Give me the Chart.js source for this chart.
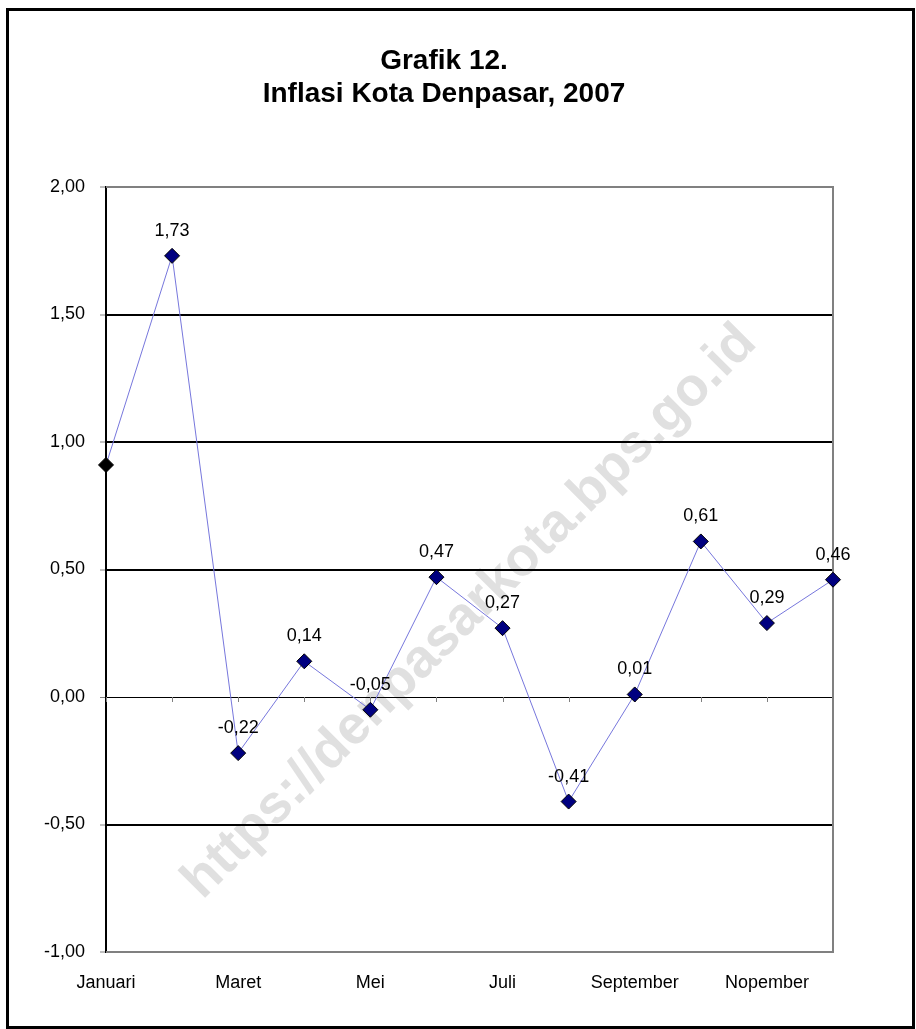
<!DOCTYPE html>
<html>
<head>
<meta charset="utf-8">
<title>Grafik 12. Inflasi Kota Denpasar, 2007</title>
<script src="https://cdn.jsdelivr.net/npm/chart.js@4"></script>
<style>
  html, body { margin: 0; padding: 0; background: #fff; }
  #chart { display: block; }
</style>
</head>
<body>
<canvas id="chart" width="916" height="1029"></canvas>
<script>
// ── Data ──────────────────────────────────────────────────────
const months = ['Januari', 'Februari', 'Maret', 'April', 'Mei', 'Juni',
                'Juli', 'Agustus', 'September', 'Oktober', 'Nopember', 'Desember'];
const inflasi = [0.91, 1.73, -0.22, 0.14, -0.05, 0.47, 0.27, -0.41, 0.01, 0.61, 0.29, 0.46];
const titleLines = ['Grafik 12.', 'Inflasi Kota Denpasar, 2007'];
const watermark = 'https://denpasarkota.bps.go.id';

const FONT = 'Arial, "Liberation Sans", sans-serif';
const fmt = v => Number(v).toFixed(2).replace('.', ',');

// ── Plugins ───────────────────────────────────────────────────
const frame = {
    id: 'frame',
    beforeDraw(chart) {
        const { ctx } = chart;
        ctx.save();
        ctx.fillStyle = '#fff';
        ctx.fillRect(0, 0, chart.width, chart.height);
        // watermark, behind everything
        ctx.translate(470, 612);
        ctx.rotate(-Math.PI / 4);
        ctx.font = 'bold 54px ' + FONT;
        ctx.fillStyle = '#e0e0e0';
        ctx.textAlign = 'center';
        ctx.textBaseline = 'middle';
        ctx.fillText(watermark, 0, 0);
        ctx.restore();
    },
    afterDraw(chart) {
        const { ctx } = chart;
        ctx.save();
        // outer border
        ctx.strokeStyle = '#000';
        ctx.lineWidth = 3;
        ctx.strokeRect(7.5, 9.5, 906, 1018);
        // title
        ctx.fillStyle = '#000';
        ctx.font = 'bold 28px ' + FONT;
        ctx.textAlign = 'center';
        ctx.textBaseline = 'alphabetic';
        ctx.fillText(titleLines[0], 444, 69);
        ctx.fillText(titleLines[1], 444, 102);
        ctx.restore();
    },
    beforeDatasetsDraw(chart) {
        const { ctx, chartArea: a, scales } = chart;
        ctx.save();
        // plot border: grey top / right / bottom
        ctx.strokeStyle = '#808080';
        ctx.lineWidth = 2;
        ctx.beginPath();
        ctx.moveTo(a.left, a.top);
        ctx.lineTo(a.right, a.top);
        ctx.lineTo(a.right, a.bottom);
        ctx.lineTo(a.left, a.bottom);
        ctx.stroke();
        // category tick marks on the zero line
        const y0 = scales.y.getPixelForValue(0);
        ctx.strokeStyle = '#808080';
        ctx.lineWidth = 1;
        months.forEach((m, i) => {
            const x = Math.round(scales.x.getPixelForValue(i)) + 0.5;
            ctx.beginPath();
            ctx.moveTo(x, y0);
            ctx.lineTo(x, y0 + 5);
            ctx.stroke();
        });
        ctx.restore();
    },
    afterDatasetsDraw(chart) {
        const { ctx } = chart;
        const meta = chart.getDatasetMeta(0);
        ctx.save();
        ctx.fillStyle = '#000';
        ctx.font = '18px ' + FONT;
        ctx.textAlign = 'center';
        ctx.textBaseline = 'alphabetic';
        meta.data.forEach((pt, i) => {
            if (i === 0) return;
            ctx.fillText(fmt(inflasi[i]), pt.x, pt.y - 20);
        });
        ctx.restore();
    }
};

// ── Chart ─────────────────────────────────────────────────────
new Chart(document.getElementById('chart').getContext('2d'), {
    type: 'line',
    data: {
        labels: months,
        datasets: [{
            data: inflasi,
            borderColor: '#7777dd',
            borderWidth: 1,
            tension: 0,
            pointStyle: 'rectRot',
            pointRadius: 7.5,
            pointHoverRadius: 7.5,
            pointBorderWidth: 1,
            pointBorderColor: '#000',
            pointBackgroundColor: inflasi.map((v, i) => i === 0 ? '#000' : '#000080'),
            clip: false
        }]
    },
    options: {
        responsive: false,
        animation: false,
        events: [],
        layout: { padding: { top: 187, right: 83, bottom: 0, left: 0 } },
        plugins: {
            legend: { display: false },
            title: { display: false },
            tooltip: { enabled: false }
        },
        scales: {
            x: {
                type: 'category',
                offset: false,
                afterFit: s => { s.height = 77; },
                grid: { display: false, drawTicks: false },
                border: { display: false },
                ticks: {
                    autoSkip: false,
                    maxRotation: 0,
                    padding: 20,
                    color: '#000',
                    font: { family: FONT, size: 18 },
                    callback: (v, i) => i % 2 === 0 ? months[i] : ''
                }
            },
            y: {
                min: -1,
                max: 2,
                afterFit: s => { s.width = 106; },
                ticks: {
                    stepSize: 0.5,
                    padding: 15,
                    color: '#000',
                    font: { family: FONT, size: 18 },
                    callback: v => fmt(v)
                },
                grid: {
                    color: c => (c.tick.value === 2 || c.tick.value === -1) ? 'rgba(0,0,0,0)' : '#000',
                    lineWidth: c => c.tick.value === 0 ? 1 : 2,
                    tickColor: '#808080',
                    tickLength: 6,
                    tickWidth: 1
                },
                border: { display: true, color: '#000', width: 2 }
            }
        }
    },
    plugins: [frame]
});
</script>
</body>
</html>
